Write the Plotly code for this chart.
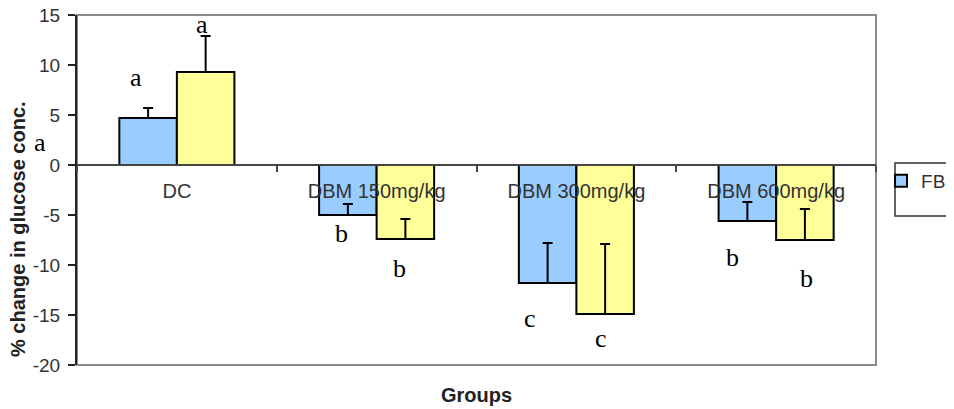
import plotly.graph_objects as go

groups = ["DC", "DBM 150mg/kg", "DBM 300mg/kg", "DBM 600mg/kg"]
series_names = ["FBG", "PPG"]
fbg = [4.7, -5.0, -11.8, -5.6]
fbg_err = [1.0, 1.1, 4.0, 1.9]
ppg = [9.3, -7.4, -14.9, -7.5]
ppg_err = [3.6, 2.0, 7.0, 3.1]
y_ticks = [15, 10, 5, 0, -5, -10, -15, -20]
y_tick_labels = ["15", "10", "5", "0", "-5", "-10", "-15", "-20"]

# significance letters: (group index, side offset in category units, y value, letter)
sig_groups = [0, 0, 1, 1, 2, 2, 3, 3]
sig_offsets = [-0.204, 0.128, -0.178, 0.114, -0.230, 0.125, -0.217, 0.154]
sig_y = [8.8, 14.1, -6.8, -10.3, -15.3, -17.3, -9.2, -11.3]
sig_letters = ["a", "a", "b", "b", "c", "c", "b", "b"]

# page body has an 8px margin, so the figure is sized/offset accordingly
W, H = 946, 401
L, R, T, B = 69, 78, 7, 44

fig = go.Figure()
fig.add_trace(go.Bar(
    x=groups, y=fbg, name=series_names[0],
    marker=dict(color="#99CCFF", line=dict(color="black", width=2)),
    error_y=dict(type="data", symmetric=False, array=fbg_err,
                 arrayminus=[0] * len(fbg_err), color="black", thickness=2, width=5),
))
fig.add_trace(go.Bar(
    x=groups, y=ppg, name=series_names[1],
    marker=dict(color="#FFFF99", line=dict(color="black", width=2)),
    error_y=dict(type="data", symmetric=False, array=ppg_err,
                 arrayminus=[0] * len(ppg_err), color="black", thickness=2, width=5),
))

annotations = []
for g, off, yv, t in zip(sig_groups, sig_offsets, sig_y, sig_letters):
    annotations.append(dict(x=g + off, y=yv, xref="x", yref="y", text=t, showarrow=False,
                            font=dict(family="Liberation Serif, Times New Roman, serif", size=26, color="black"),
                            xanchor="center", yanchor="middle"))
annotations.append(dict(x=-0.0463, y=2.3, xref="paper", yref="y", text="a", showarrow=False,
                        font=dict(family="Liberation Serif, Times New Roman, serif", size=26, color="black"),
                        xanchor="center", yanchor="middle"))
annotations.append(dict(x=0.4994, y=-0.0857, xref="paper", yref="paper", text="<b>Groups</b>",
                        showarrow=False, font=dict(family="Arial, Liberation Sans, sans-serif", size=20, color="#222"),
                        xanchor="center", yanchor="middle"))
annotations.append(dict(x=-0.0738, y=0.3886, xref="paper", yref="paper", text="<b>% change in glucose conc.</b>",
                        textangle=-90, showarrow=False,
                        font=dict(family="Arial, Liberation Sans, sans-serif", size=20, color="#222"),
                        xanchor="center", yanchor="middle"))

shapes = [
    dict(type="rect", xref="paper", yref="paper", x0=0, x1=1, y0=0, y1=1,
         line=dict(color="#8a8a8a", width=2), layer="below"),
    dict(type="rect", xref="paper", yref="paper", x0=1.0238, x1=1.4, y0=0.4257, y1=0.577,
         line=dict(color="#333", width=1.5), fillcolor="white", layer="below"),
]

fig.update_layout(
    width=W, height=H,
    margin=dict(l=L, r=R, t=T, b=B, pad=0, autoexpand=False),
    paper_bgcolor="white", plot_bgcolor="white",
    barmode="group", bargap=0.424, bargroupgap=0,
    font=dict(family="Arial, Liberation Sans, sans-serif", color="#333"),
    showlegend=True,
    legend=dict(xref="paper", yref="paper", x=1.0063, y=(365 - 181) / 350,
                xanchor="left", yanchor="middle", orientation="h",
                font=dict(size=19, color="#333"), bgcolor="rgba(0,0,0,0)",
                borderwidth=0, itemwidth=30),
    xaxis=dict(type="category", anchor="free", position=20 / 35,
               showline=True, linecolor="#444", linewidth=2,
               ticks="outside", tickson="boundaries", ticklen=6, tickcolor="#444", tickwidth=2,
               ticklabelstandoff=8, tickfont=dict(size=20, color="#333"),
               showgrid=False, zeroline=False, fixedrange=True),
    yaxis=dict(range=[-20, 15], tickvals=y_ticks, ticktext=y_tick_labels,
               showline=True, linecolor="#222", linewidth=2,
               ticks="outside", ticklen=7, tickcolor="#222", tickwidth=2,
               ticklabelstandoff=4, ticklabeloverflow="allow",
               tickfont=dict(size=19, color="#333"),
               showgrid=False, zeroline=False),
    annotations=annotations,
    shapes=shapes,
)

fig.write_html("out.html")
